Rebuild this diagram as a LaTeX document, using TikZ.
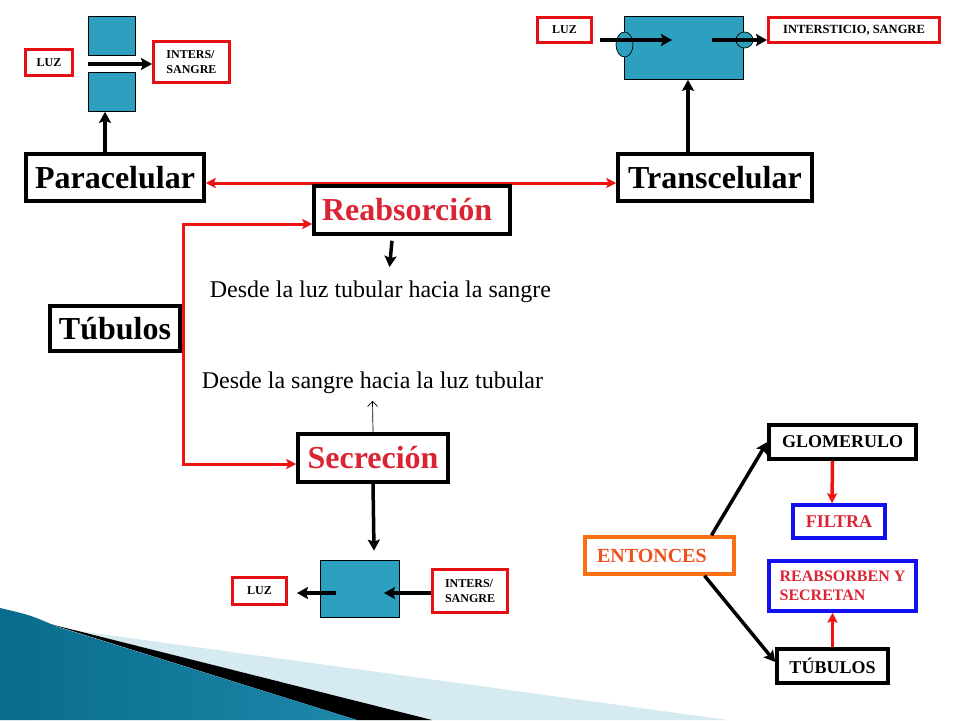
\documentclass[tikz,border=0pt]{standalone}
\usepackage{fontspec}
\setmainfont{Liberation Serif}
\usetikzlibrary{arrows.meta}
\definecolor{cellteal}{RGB}{44,160,190}
\definecolor{boxred}{RGB}{228,16,20}
\definecolor{linered}{RGB}{238,20,20}
\definecolor{textred}{RGB}{218,36,52}
\definecolor{boxblue}{RGB}{16,16,240}
\definecolor{boxorange}{RGB}{250,110,20}
\definecolor{textorange}{RGB}{240,80,30}
\definecolor{swooshlight}{RGB}{214,234,241}
\definecolor{swooshdark}{RGB}{8,108,140}
\definecolor{swooshmid}{RGB}{100,195,225}
\definecolor{swooshright}{RGB}{30,135,170}
\newcommand{\fsz}[2]{\fontsize{#1}{#2}\selectfont}

\begin{document}
\begin{tikzpicture}[x=1pt, y=-1pt,
  bigbox/.style={draw, line width=3.5pt, fill=white, inner sep=0pt, font=\bfseries\fsz{32}{36}},
  redbox/.style={draw=boxred, line width=3pt, inner sep=0pt, align=left, font=\bfseries\fsz{12}{15}},
  cell/.style={draw, fill=cellteal, line width=0.7pt},
  arr/.style={-{Stealth[length=11pt,width=12pt,inset=2pt]}, line width=3.5pt},
  redline/.style={draw=linered, line width=3pt},
  redarr/.style={redline, -{Stealth[length=10pt,width=10pt,inset=2pt]}},
  smallbox/.style={draw, line width=3.5pt, inner sep=0pt, font=\bfseries\fsz{18}{20}}
]
  \useasboundingbox (0,0) rectangle (960,720);

  % Swoosh in the lower left corner
  \fill[swooshlight] (0,608) -- (64,629) -- (728,720) -- (0,720) -- cycle;
  \fill[black] (50,624) -- (432,720) -- (357,720) -- cycle;
  \shade[left color=swooshdark, middle color=swooshmid, right color=swooshright]
    (0,608) .. controls (30,615) .. (58,627) -- (357,720) -- (0,720) -- cycle;

  % Paracelular: two cells with a gap
  \node[cell, minimum width=47, minimum height=39] (pcup) at (112,36) {};
  \node[cell, minimum width=47, minimum height=39] (pcdown) at (112,92) {};
  \node[redbox, minimum width=47, minimum height=26] (luzpara) at (49,62.5) {LUZ};
  \node[redbox, minimum width=76, minimum height=41] (interpara) at (191.5,62) {INTERS/\\SANGRE};
  \coordinate (gap) at (88,64);
  \draw[arr] (gap) -- (interpara.west |- gap); % through the gap

  % Transcelular: one cell with two carriers
  \node[cell, minimum width=119, minimum height=63] (celltr) at (684,48) {};
  \node[redbox, minimum width=54, minimum height=25] (luztr) at (564.5,30) {LUZ};
  \node[redbox, minimum width=171, minimum height=25, font=\bfseries\fsz{12.5}{15}] (intertr) at (854,30) {INTERSTICIO, SANGRE};
  \draw[cell] (624.5,44.5) ellipse [x radius=8.5, y radius=12.5];
  \draw[cell] (744.5,40) ellipse [x radius=8.5, y radius=8];
  \coordinate (trA) at (672,40);
  \coordinate (trB) at (712,40);
  \draw[arr, shorten <=7pt] (luztr.east |- trA) -- (trA);
  \draw[arr] (trB) -- (intertr.west |- trB);

  % Main boxes
  \node[bigbox, minimum width=178, minimum height=47] (para) at (115,177.5) {Paracelular};
  \node[bigbox, minimum width=194, minimum height=47] (trans) at (715,177.5) {Transcelular};
  \draw[arr] (para.north -| 105,0) -- (pcdown.south -| 105,0);
  \draw[arr] (trans.north -| 688,0) -- (celltr.south -| 688,0);
  \draw[redline, {Stealth[length=10pt,width=10pt,inset=2pt]}-{Stealth[length=10pt,width=10pt,inset=2pt]}] (para.east |- 0,183) -- (trans.west |- 0,183);

  \node[bigbox, minimum width=196, minimum height=48, text=textred, text width=180, align=left] (reab) at (412,210) {Reabsorción};
  \node[bigbox, minimum width=130, minimum height=45] (tub) at (115,328.5) {Túbulos};
  \node[bigbox, minimum width=150, minimum height=48, text=textred] (secr) at (373,458) {Secreción};
  \draw[redarr] ([xshift=2pt]tub.east) |- ([yshift=-14pt]reab.west);
  \draw[redarr] ([xshift=2pt]tub.east) |- ([yshift=-6pt]secr.west);

  % Directions
  \node[font=\fsz{24}{28}] (desdeA) at (380.5,291.5) {Desde la luz tubular hacia la sangre};
  \node[font=\fsz{24}{28}] (desdeB) at (372.5,382.5) {Desde la sangre hacia la luz tubular};
  \draw[arr] ([xshift=-20pt,yshift=-5pt]reab.south) -- ([xshift=9pt,yshift=10pt]desdeA.north);
  \draw[-{Straight Barb[length=5pt,width=10pt]}, line width=0.7pt] (secr.north) -- ([yshift=-4pt]desdeB.south);

  % Secretion cell
  \node[cell, minimum width=79, minimum height=57] (cellbot) at (360,588.5) {};
  \node[redbox, minimum width=54, minimum height=27] (luzbot) at (259.5,591) {LUZ};
  \node[redbox, minimum width=75, minimum height=43] (interbot) at (470,591) {INTERS/\\SANGRE};
  \draw[arr] (secr.south) -- ([xshift=14pt,yshift=9pt]cellbot.north);
  \coordinate (botL) at (336,593);
  \coordinate (botR) at (384,593);
  \draw[arr, shorten >=9pt] (botL) -- (luzbot.east |- botL);
  \draw[arr] (interbot.west |- botR) -- (botR);

  % Entonces
  \node[smallbox, draw=boxorange, text=textorange, font=\bfseries\fsz{20}{22}, minimum width=149, minimum height=37, text width=125, align=left] (ent) at (659.5,555.5) {ENTONCES};
  \node[smallbox, minimum width=147, minimum height=34] (glom) at (842.5,442) {GLOMERULO};
  \node[smallbox, draw=boxblue, text=textred, minimum width=92, minimum height=33] (filtra) at (839,521.5) {FILTRA};
  \node[smallbox, draw=boxblue, text=textred, font=\bfseries\fsz{16}{19}, minimum width=147, minimum height=50, align=left] (reabsec) at (842.5,586) {REABSORBEN Y\\SECRETAN};
  \node[smallbox, minimum width=111, minimum height=34] (tubs) at (832.5,666) {TÚBULOS};
  \draw[arr] ([xshift=52pt]ent.north) -- (glom.west);
  \draw[arr] ([xshift=45pt]ent.south) -- ([yshift=4pt]tubs.west);
  \draw[redarr, line width=3.5pt] ([xshift=-10pt]glom.south) -- ([xshift=-7pt]filtra.north);
  \draw[redarr, line width=3.5pt] (tubs.north) -- ([xshift=-10pt]reabsec.south);
\end{tikzpicture}
\end{document}
